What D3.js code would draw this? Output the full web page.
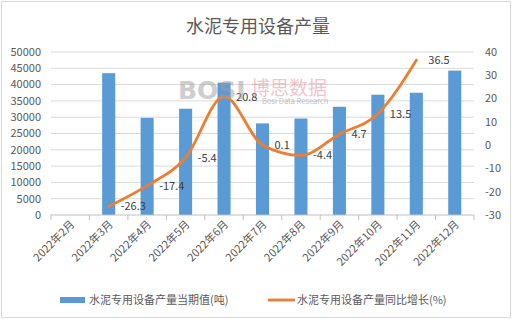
<!DOCTYPE html>
<html>
<head>
<meta charset="utf-8">
<script src="https://cdn.jsdelivr.net/npm/d3@7/dist/d3.min.js"></script>
<style>
  html, body { margin: 0; padding: 0; background: #fff; }
  svg text { font-family: "Noto Sans CJK SC", "Noto Sans", sans-serif; }
</style>
</head>
<body>
<div class="chart"></div>
<script>
var months = ['2022年2月', '2022年3月', '2022年4月', '2022年5月', '2022年6月', '2022年7月',
              '2022年8月', '2022年9月', '2022年10月', '2022年11月', '2022年12月'];
var output = [null, 43500, 29800, 32600, 40600, 28100, 29600, 33200, 36900, 37500, 44300];
var growth = [null, -26.3, -17.4, -5.4, 20.8, 0.1, -4.4, 4.7, 13.5, 36.5, null];
var leftTicks = [0, 5000, 10000, 15000, 20000, 25000, 30000, 35000, 40000, 45000, 50000];
var rightTicks = [-30, -20, -10, 0, 10, 20, 30, 40];
var titleText = '水泥专用设备产量';
var legendBar = '水泥专用设备产量当期值(吨)';
var legendLine = '水泥专用设备产量同比增长(%)';

var W = 512, H = 319;
var margin = { top: 52, right: 38, bottom: 104, left: 51 };
var width = W - margin.left - margin.right;
var height = H - margin.top - margin.bottom;

var svg = d3.select('.chart').append('svg')
    .attr('width', W)
    .attr('height', H);

// chart frame
svg.append('rect')
    .attr('x', 1.5).attr('y', 1.5)
    .attr('width', W - 3).attr('height', H - 3)
    .attr('fill', '#fff')
    .attr('stroke', '#d9d9d9');

svg.append('text')
    .attr('x', 258).attr('y', 33)
    .attr('text-anchor', 'middle')
    .attr('fill', '#595959')
    .style('font-size', '18px')
    .text(titleText);

var g = svg.append('g')
    .attr('transform', 'translate(' + margin.left + ',' + margin.top + ')');

var x = d3.scaleBand().domain(months).range([0, width]).paddingInner(0.66).paddingOuter(0.33);
var yL = d3.scaleLinear().domain([0, 50000]).range([height, 0]);
var yR = d3.scaleLinear().domain([-30, 40]).range([height, 0]);
var step = x.step();

// gridlines
g.selectAll('.grid')
  .data(leftTicks.slice(1))
  .enter().append('line')
    .attr('x1', 0).attr('x2', width)
    .attr('y1', d => yL(d)).attr('y2', d => yL(d))
    .attr('stroke', '#d9d9d9');

// watermark (faint, behind the marks)
var wm = svg.append('g').attr('opacity', 0.5);
wm.append('text')
    .attr('x', 178).attr('y', 99)
    .attr('fill', '#9e9e9e')
    .style('font-size', '25px').style('font-weight', 'bold')
    .style('font-family', 'DejaVu Sans')
    .text('BOSI');
wm.append('text')
    .attr('x', 251).attr('y', 95)
    .attr('fill', '#e58a98')
    .style('font-size', '19px')
    .text('博思数据');
wm.append('text')
    .attr('x', 262).attr('y', 104)
    .attr('fill', '#8a8a8a')
    .style('font-size', '7.5px')
    .text('Bosi Data Research');

// bars
g.selectAll('.bar')
  .data(months.map((m, i) => ({ m: m, v: output[i] })).filter(d => d.v != null))
  .enter().append('rect')
    .attr('class', 'bar')
    .attr('x', d => x(d.m))
    .attr('width', x.bandwidth())
    .attr('y', d => yL(d.v))
    .attr('height', d => height - yL(d.v))
    .attr('fill', '#5b9bd5');

// x axis line + ticks between categories
g.append('line')
    .attr('x1', 0).attr('x2', width)
    .attr('y1', height).attr('y2', height)
    .attr('stroke', '#bfbfbf');
g.selectAll('.xtick')
  .data(d3.range(months.length + 1))
  .enter().append('line')
    .attr('x1', d => d * step).attr('x2', d => d * step)
    .attr('y1', height).attr('y2', height + 5)
    .attr('stroke', '#bfbfbf');

// x labels
g.selectAll('.xlab')
  .data(months)
  .enter().append('text')
    .attr('text-anchor', 'end')
    .attr('fill', '#595959')
    .style('font-size', '11px')
    .attr('transform', d => 'translate(' + (x(d) + x.bandwidth() / 2 + 5) + ',' + (height + 10) + ') rotate(-45)')
    .text(d => d);

// left axis labels
g.selectAll('.ylab')
  .data(leftTicks)
  .enter().append('text')
    .attr('x', -10).attr('y', d => yL(d))
    .attr('dy', '0.35em')
    .attr('text-anchor', 'end')
    .attr('fill', '#595959')
    .style('font-size', '11px')
    .text(d => d);

// right axis labels
g.selectAll('.rlab')
  .data(rightTicks)
  .enter().append('text')
    .attr('x', width + 11).attr('y', d => yR(d))
    .attr('dy', '0.35em')
    .attr('fill', '#595959')
    .style('font-size', '11px')
    .text(d => d);

// growth line
var pts = months.map((m, i) => ({ m: m, v: growth[i] })).filter(d => d.v != null);
var line = d3.line()
    .x(d => x(d.m) + x.bandwidth() / 2)
    .y(d => yR(d.v))
    .curve(d3.curveMonotoneX);

g.append('path')
    .datum(pts)
    .attr('d', line)
    .attr('fill', 'none')
    .attr('stroke', '#ed7d31')
    .attr('stroke-width', 2.8)
    .attr('stroke-linecap', 'round');

g.selectAll('.plab')
  .data(pts)
  .enter().append('text')
    .attr('x', d => x(d.m) + x.bandwidth() / 2 + 12)
    .attr('y', d => yR(d.v))
    .attr('dy', '0.35em')
    .attr('fill', '#404040')
    .style('font-size', '11px')
    .text(d => d.v);

// legend
var lg = svg.append('g');
lg.append('rect')
    .attr('x', 60).attr('y', 297)
    .attr('width', 25).attr('height', 6)
    .attr('fill', '#5b9bd5');
lg.append('text')
    .attr('x', 89).attr('y', 300).attr('dy', '0.35em')
    .attr('fill', '#595959')
    .style('font-size', '11px')
    .text(legendBar);
lg.append('line')
    .attr('x1', 268).attr('x2', 295)
    .attr('y1', 300).attr('y2', 300)
    .attr('stroke', '#ed7d31')
    .attr('stroke-width', 2.8);
lg.append('text')
    .attr('x', 297).attr('y', 300).attr('dy', '0.35em')
    .attr('fill', '#595959')
    .style('font-size', '11px')
    .text(legendLine);
</script>
</body>
</html>
